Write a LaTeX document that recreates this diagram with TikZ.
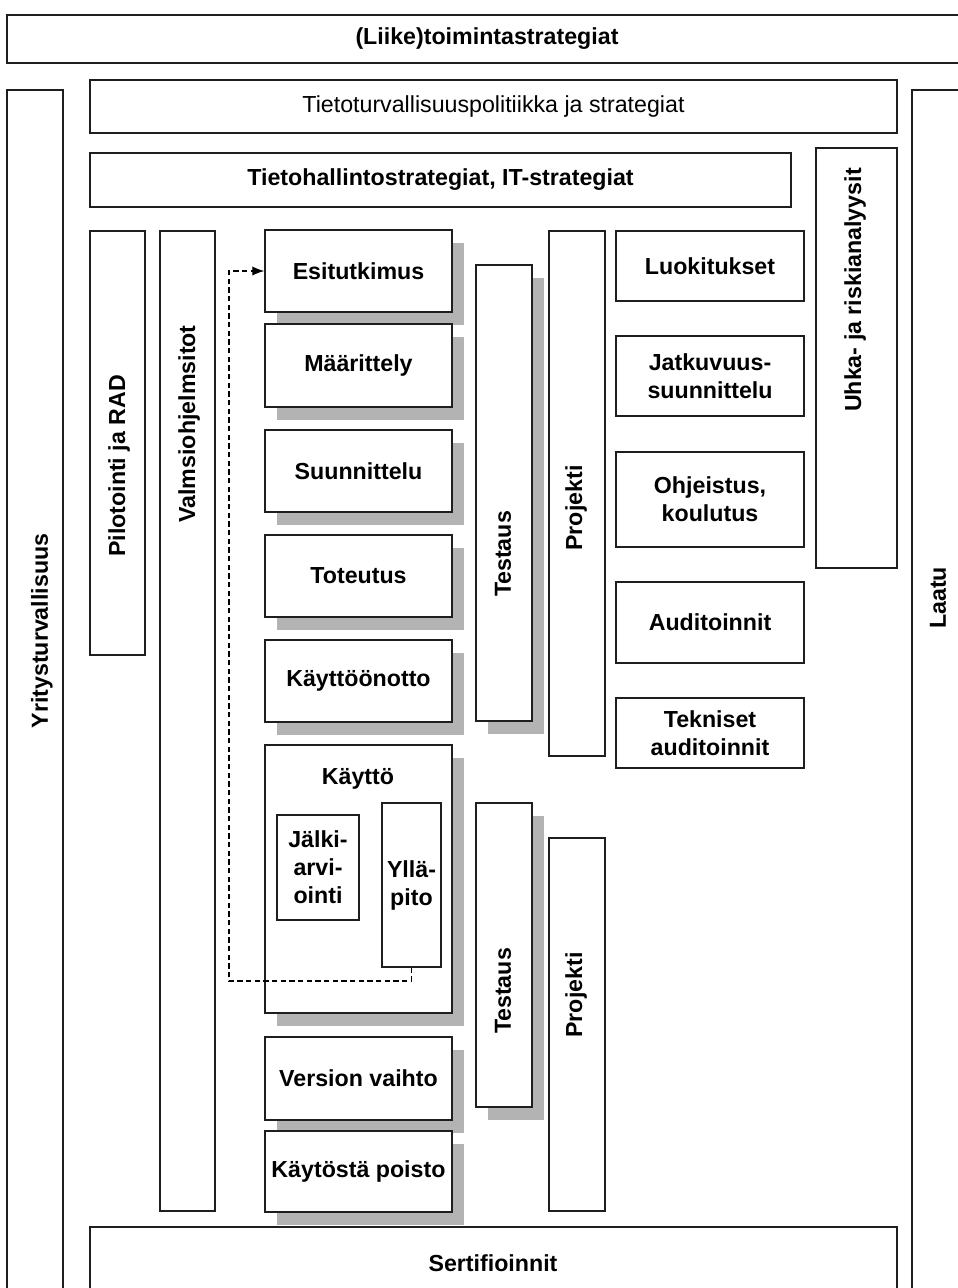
\documentclass[tikz,border=0pt]{standalone}
\usepackage{fontspec}
\setmainfont{Liberation Sans}
\usetikzlibrary{shadows,arrows.meta}
\definecolor{shadowgray}{RGB}{179,179,179}
\definecolor{linegray}{RGB}{30,30,30}
\newcommand\lblfont{\fontsize{17.4pt}{21pt}\selectfont\bfseries}
\newcommand\bx[7][]{\node[box,#1,minimum width={(#5-#3)*0.75pt},minimum height={(#6-#4)*0.75pt}] (#2) at ({(#3+#5)/2},{(#4+#6)/2}) {#7};}
\tikzset{
  box/.style={draw=linegray, line width=1.1pt, fill=white, inner sep=0pt, font=\lblfont, align=center},
  shbox/.style={drop shadow={shadow xshift=9pt, shadow yshift=-9.5pt, fill=shadowgray, opacity=1}},
  vlabel/.style={rotate=90, font=\lblfont, inner sep=0pt},
  hlabel/.style={font=\lblfont, inner sep=0pt},
  loopline/.style={draw=black, line width=0.9pt, dash pattern=on 4pt off 2.5pt, -{Latex[length=9pt,width=7pt]}}
}
\begin{document}
\begin{tikzpicture}[x=0.75pt,y=-0.75pt]
\useasboundingbox (0,0) rectangle (957,1288);
\fill[white] (0,0) rectangle (957,1288);
% outer frame boxes
\bx{top}{7}{15}{965}{63}{}
\node[hlabel] (toplbl) at (487,39) {(Liike)toimintastrategiat};
\bx{yrit}{7}{90}{63}{1300}{}
\node[vlabel] (yritlbl) at (42,631) {Yritysturvallisuus};
\bx{laatu}{912}{90}{965}{1300}{}
\node[vlabel] (laatulbl) at (938,598) {Laatu};
\bx{ttp}{90}{80}{897}{133}{\fontsize{17.4pt}{21pt}\selectfont\mdseries Tietoturvallisuuspolitiikka ja strategiat}
\bx{ths}{90}{153}{791}{207}{Tietohallintostrategiat, IT-strategiat}
\bx{uhka}{816}{148}{897}{568}{}
\node[vlabel] (uhkalbl) at (855,290) {Uhka- ja riskianalyysit};
\bx{sert}{90}{1227}{897}{1300}{}
\node[hlabel] (sertlbl) at (493,1263) {Sertifioinnit};
% left columns
\bx{pilot}{90}{231}{145}{655}{}
\node[vlabel] (pilotlbl) at (119,466) {Pilotointi ja RAD};
\bx{valm}{160}{231}{215}{1211}{}
\node[vlabel] (valmlbl) at (189,424) {Valmsiohjelmsitot};
% life-cycle phases
\bx[shbox]{esit}{265}{230}{452}{312}{Esitutkimus}
\bx[shbox]{maar}{265}{324}{452}{407}{Määrittely}
\bx[shbox]{suun}{265}{430}{452}{512}{Suunnittelu}
\bx[shbox]{tote}{265}{535}{452}{617}{Toteutus}
\bx[shbox]{kotto}{265}{640}{452}{722}{Käyttöönotto}
\bx[shbox]{kaytto}{265}{745}{452}{1013}{}
\node[hlabel] (kayttolbl) at (358,779) {Käyttö};
\bx{jalki}{277}{815}{359}{920}{Jälki-\\arvi-\\ointi}
\bx{yll}{382}{803}{441}{967}{Yllä-\\pito}
\bx[shbox]{vers}{265}{1037}{452}{1120}{Version vaihto}
\bx[shbox]{poisto}{265}{1131}{452}{1212}{Käytöstä poisto}
% testing / project columns
\bx[shbox]{test1}{476}{265}{532}{721}{}
\node[vlabel] (test1lbl) at (503,554) {Testaus};
\bx[shbox]{test2}{476}{803}{532}{1107}{}
\node[vlabel] (test2lbl) at (503,991) {Testaus};
\bx{proj1}{549}{231}{605}{756}{}
\node[vlabel] (proj1lbl) at (576,508) {Projekti};
\bx{proj2}{549}{838}{605}{1211}{}
\node[vlabel] (proj2lbl) at (576,995) {Projekti};
% right boxes
\bx{luok}{616}{231}{804}{301}{Luokitukset}
\bx{jatk}{616}{336}{804}{416}{Jatkuvuus-\\suunnittelu}
\bx{ohje}{616}{452}{804}{547}{Ohjeistus,\\koulutus}
\bx{audit}{616}{582}{804}{663}{Auditoinnit}
\bx{tekn}{616}{698}{804}{768}{Tekniset\\auditoinnit}
% feedback loop
\coordinate (loopcorner) at (229,981);
\draw[loopline] (yll.south) |- (loopcorner) |- (esit.west);
\end{tikzpicture}
\end{document}
